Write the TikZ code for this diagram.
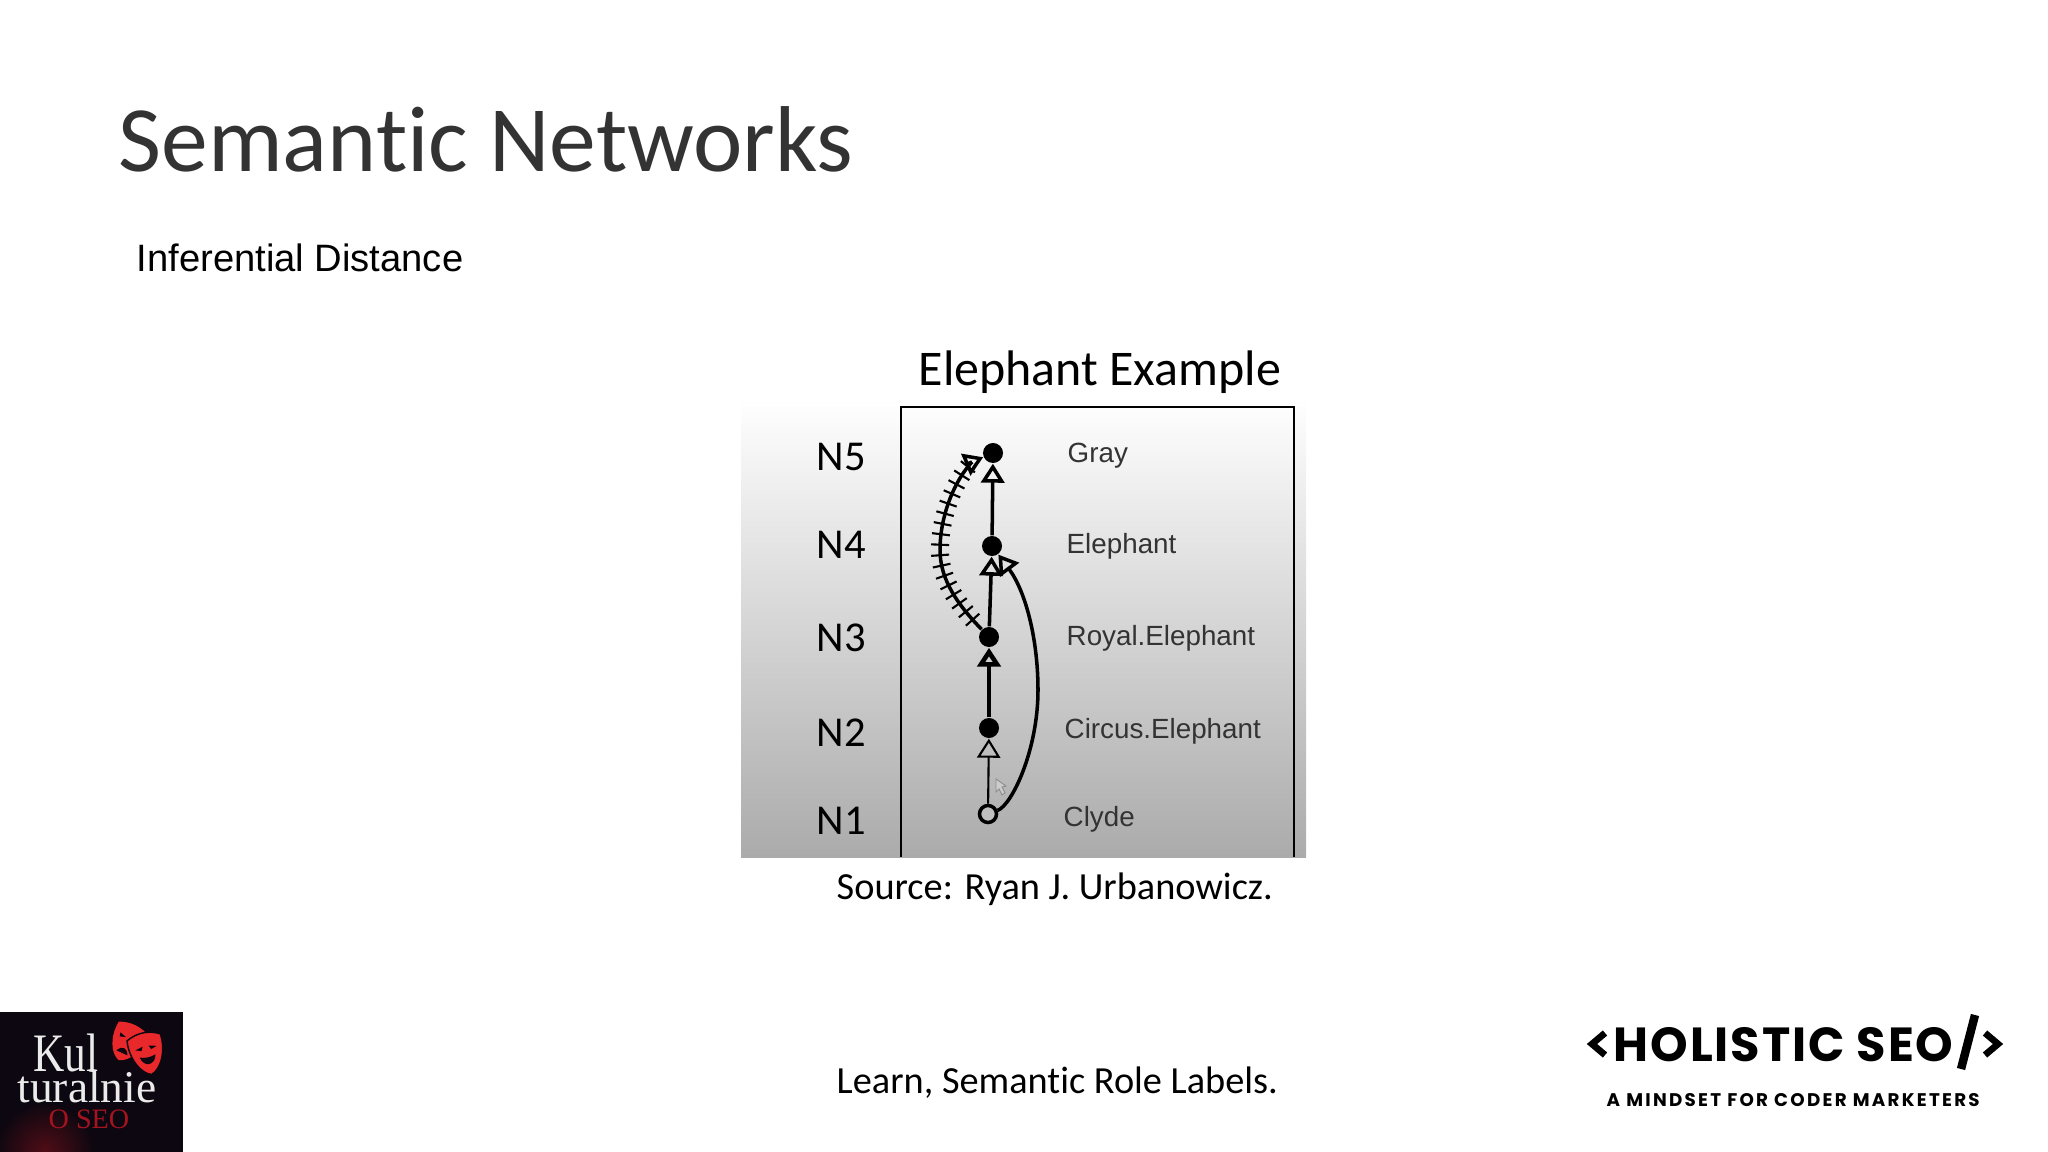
\documentclass[tikz,border=0pt]{standalone}
\usepackage{fontspec}
\setmainfont[Ligatures=CommonOff]{Carlito}
\newfontfamily\liberation{Liberation Sans}
\newfontfamily\timesfont{Liberation Serif}
\newfontfamily\timesnarrow[FakeStretch=0.8]{Liberation Serif}
\newfontfamily\poppins[LetterSpace=4]{Poppins}
\newfontfamily\poppinstag[LetterSpace=12.4]{Poppins}
\usetikzlibrary{arrows.meta,decorations.markings}
\definecolor{logoblack}{HTML}{0C0710}
\definecolor{maskred}{HTML}{E8282A}
\definecolor{seored}{HTML}{A5141E}
\tikzset{
    slidetext/.style={inner sep=0pt,anchor=base west},
    levellabel/.style={slidetext,font=\fontsize{12.1}{13}\selectfont},
    conceptlabel/.style={slidetext,text=black!80,font=\liberation\fontsize{7.9}{9}\selectfont},
    solidnode/.style={circle,fill=black,inner sep=0pt,minimum size=0.2cm},
    opennode/.style={circle,draw=black,line width=1pt,fill=white!75!black,inner sep=0pt,minimum size=0.17cm},
    isa/.style={-{Triangle[open,length=5.4pt,width=6.6pt]},line width=1pt},
    hatched/.style={line width=1pt,postaction={decorate},decoration={markings,
        mark=between positions 0.07 and 0.97 step 0.105cm with {\draw[line width=0.6pt] (0,-9) -- (0,9);}}}
}
\begin{document}
\begin{tikzpicture}[x=0.01cm,y=-0.01cm]
    \useasboundingbox (0,0) rectangle (2048,1152);
    \shade[top color=white,bottom color=black!33] (741,398) rectangle (1306,857);
    \draw[line width=0.6pt] (901,857) -- (901,407) -- (1294,407) -- (1294,857);

    \node[slidetext,font=\fontsize{26.6}{30}\selectfont,text=black!80] (title) at (118,172) {Semantic Networks};
    \node[slidetext,font=\liberation\fontsize{10.85}{12}\selectfont] (subtitle) at (136,272) {Inferential Distance};
    \node[slidetext,font=\fontsize{14.2}{16}\selectfont] (heading) at (918,386) {Elephant Example};

    \node[levellabel] (n5) at (816,471) {N5};
    \node[levellabel] (n4) at (816,558) {N4};
    \node[levellabel] (n3) at (816,652) {N3};
    \node[levellabel] (n2) at (816,746) {N2};
    \node[levellabel] (n1) at (816,834) {N1};

    \node[solidnode] (gray) at (993,453) {};
    \node[solidnode] (elephant) at (992,546) {};
    \node[solidnode] (royal) at (989,637) {};
    \node[solidnode] (circus) at (989,728) {};
    \node[opennode] (clyde) at (988,814) {};

    \node[conceptlabel] (grayname) at (1067,463) {Gray};
    \node[conceptlabel] (elephantname) at (1066,554) {Elephant};
    \node[conceptlabel] (royalname) at (1066,646) {Royal.Elephant};
    \node[conceptlabel] (circusname) at (1064,738) {Circus.Elephant};
    \node[conceptlabel] (clydename) at (1063,826) {Clyde};

    \draw[isa,line width=0.6pt] (clyde) -- (circus);
    \draw[isa,line width=1.3pt] (circus) -- (royal);
    \draw[isa] (royal) -- (elephant);
    \draw[isa] (elephant) -- (gray);
    \draw[isa] (clyde) .. controls (1012,805) and (1038,750) .. (1038,690) .. controls (1038,640) and (1026,592) .. (elephant);
    \draw[hatched] (royal) .. controls (958,605) and (940,580) .. (940,550) .. controls (940,515) and (955,480) .. (972,462);
    \coordinate (hatchend) at (972,462);
    \draw[isa] (hatchend) -- (gray);

    \draw[black!45,line width=0.25pt,fill=white!80!black] (996,779) -- (996,792) -- (999,789) -- (1002,795) -- (1005,793) -- (1002,787) -- (1006,786) -- cycle;

    \node[slidetext,font=\fontsize{10.9}{13}\selectfont] (source) at (836,899) {Source: Ryan J. Urbanowicz.};
    \node[slidetext,font=\fontsize{10.9}{13}\selectfont] (learn) at (836,1093) {Learn, Semantic Role Labels.};

    \fill[logoblack] (0,1012) rectangle (183,1152);
    \begin{scope}
        \clip (0,1012) rectangle (183,1152);
        \shade[inner color=seored!45!logoblack,outer color=logoblack] (45,1152) circle (50);
    \end{scope}
    \begin{scope}[shift={(127,1042)},rotate=-25]
        \fill[maskred] (-16,-15) .. controls (-6,-20) and (6,-20) .. (16,-15) .. controls (18,2) and (10,17) .. (0,20) .. controls (-10,17) and (-18,2) .. (-16,-15) -- cycle;
        \fill[logoblack] (-10,-6) -- (-3,-4) -- (-9,-2) -- cycle (10,-6) -- (3,-4) -- (9,-2) -- cycle;
        \fill[logoblack] (-6,12) .. controls (-3,5) and (3,5) .. (6,12) -- cycle;
    \end{scope}
    \begin{scope}[shift={(147,1053)},rotate=12]
        \fill[maskred,draw=logoblack,line width=0.4pt] (-17,-16) .. controls (-6,-22) and (6,-22) .. (17,-16) .. controls (19,2) and (10,19) .. (0,22) .. controls (-10,19) and (-19,2) .. (-17,-16) -- cycle;
        \fill[logoblack] (-11,-5) -- (-3,-7) -- (-5,-3) -- cycle (11,-5) -- (3,-7) -- (5,-3) -- cycle;
        \fill[logoblack] (-8,3) .. controls (-3,5) and (3,5) .. (8,3) .. controls (6,14) and (-6,14) .. (-8,3) -- cycle;
    \end{scope}
    \node[slidetext,text=white!92!black,font=\timesnarrow\fontsize{15.4}{18}\selectfont] (kul) at (33,1071) {Kul};
    \node[slidetext,text=white!92!black,font=\timesfont\fontsize{12.9}{14}\selectfont] (turalnie) at (17,1102) {turalnie};
    \node[slidetext,text=seored,font=\timesfont\fontsize{8}{10}\selectfont] (oseo) at (48,1128) {O SEO};

    \node[slidetext,font=\poppins\bfseries\fontsize{13.6}{15}\selectfont] (holistic) at (1613,1061) {HOLISTIC SEO};
    \node[slidetext,font=\poppinstag\bfseries\fontsize{5.2}{6}\selectfont] (mindset) at (1606,1106) {A MINDSET FOR CODER MARKETERS};
    \draw[line width=1.9pt] (1605,1033) -- (1592,1044) -- (1605,1055);
    \draw[line width=1.9pt] (1985,1033) -- (1998,1044) -- (1985,1055);
    \draw[line width=2.4pt] (1975,1015) -- (1961,1069);
\end{tikzpicture}
\end{document}
